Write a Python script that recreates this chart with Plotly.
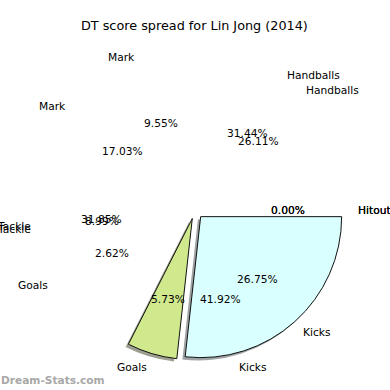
import math
import plotly.graph_objects as go

# ---------------- data ----------------
title_text = "DT score spread for Lin Jong (2014)"
categories = ["Kicks", "Goals", "Tackle", "Mark", "Handballs", "Hitout"]
pct_a = [41.92, 2.62, 8.99, 17.03, 31.44, 0.00]   # first (hidden) pie
pct_b = [26.75, 5.73, 31.85, 9.55, 26.11, 0.00]   # second pie (Kicks, Goals drawn)
watermark = "Dream-Stats.com"

# ---------------- styles ----------------
CLEAR = "rgba(0,0,0,0)"
fill_b = ["#d9ffff", "#d0e98c", CLEAR, CLEAR, CLEAR, CLEAR]
line_b = ["#111111", "#111111", CLEAR, CLEAR, CLEAR, CLEAR]
shadow_b = ["#9ea3a3", "#9c9f90", CLEAR, CLEAR, CLEAR, CLEAR]
FONT = "DejaVu Sans"

W = H = 390
CX, CY = 194.8, 210.1          # pie centre in pixels
R = 141.0                      # radius in pixels
PULL = 0.0624
SH = 2.8                       # shadow offset px

box = R * (2 + 2 * PULL)


def domain(dx=0.0, dy=0.0):
    cx, cy = CX + dx, CY + dy
    return dict(x=[(cx - box / 2) / W, (cx + box / 2) / W],
                y=[1 - (cy + box / 2) / H, 1 - (cy - box / 2) / H])


fig = go.Figure()
common = dict(labels=categories, sort=False, direction="clockwise", rotation=90,
              pull=PULL, textinfo="none", hoverinfo="label+percent", showlegend=False)

fig.add_trace(go.Pie(values=pct_b, domain=domain(-SH, SH),
                     marker=dict(colors=shadow_b, line=dict(width=0, color=CLEAR)), **common))
fig.add_trace(go.Pie(values=pct_b, domain=domain(),
                     marker=dict(colors=fill_b, line=dict(width=1, color=line_b)), **common))
fig.add_trace(go.Pie(values=pct_a, domain=domain(),
                     marker=dict(colors=[CLEAR] * 6, line=dict(width=0, color=CLEAR)), **common))

annotations = []


def add_text(values):
    total = sum(values)
    cum = 0.0
    for lab, v in zip(categories, values):
        theta = math.radians((cum + v / 2) / total * 360)
        cum += v
        c, s = math.cos(theta), math.sin(theta)
        dp = 0.6 * R + PULL * R
        dl = 1.1 * R + PULL * R
        annotations.append(dict(x=(CX + dp * c) / W, y=1 - (CY + dp * s) / H,
                                xref="paper", yref="paper", text=f"{v:.2f}%",
                                showarrow=False, xanchor="center", yanchor="middle",
                                borderpad=0, font=dict(family=FONT, size=10.67, color="#000")))
        annotations.append(dict(x=(CX + dl * c - (2 if c > 0 else 0)) / W, y=1 - (CY + dl * s) / H,
                                xref="paper", yref="paper", text=lab,
                                showarrow=False, xanchor="left" if c > 0 else "right",
                                yanchor="middle", borderpad=0,
                                font=dict(family=FONT, size=10.67, color="#000")))


add_text(pct_a)
add_text(pct_b)

annotations.append(dict(x=0, y=1 - 380 / H, xref="paper", yref="paper",
                        text=f"<b>{watermark}</b>",
                        showarrow=False, xanchor="left", yanchor="middle", borderpad=0,
                        font=dict(family=FONT, size=10.6, color="#a8a8a8")))

fig.update_layout(
    width=W, height=H,
    margin=dict(l=0, r=0, t=0, b=0),
    paper_bgcolor="white", plot_bgcolor="white",
    title=dict(text=title_text, x=194.4 / W, y=1 - 26 / H,
               xanchor="center", yanchor="middle",
               font=dict(family=FONT, size=12.8, color="#000")),
    annotations=annotations,
)

fig.write_html("out.html", config={"displayModeBar": False},
               post_script="document.body.style.margin='0';document.body.style.overflow='hidden';")
